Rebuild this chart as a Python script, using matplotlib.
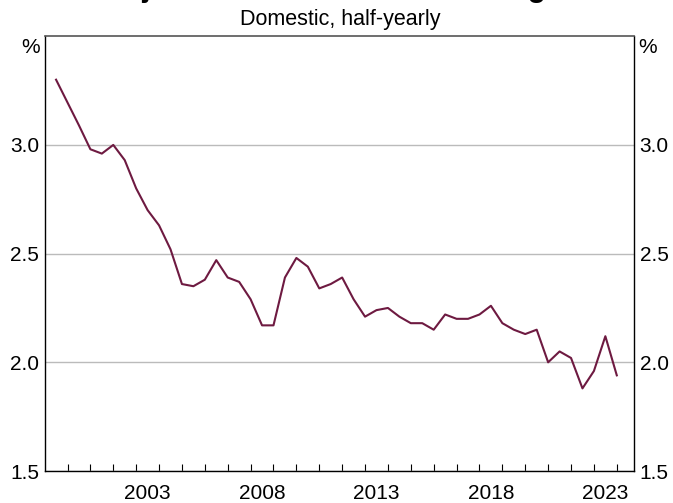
import matplotlib
matplotlib.use("Agg")
import matplotlib.pyplot as plt
from matplotlib.ticker import FixedLocator

plt.rcParams['font.family'] = ['Liberation Sans', 'DejaVu Sans']

# half-yearly observations (decimal year)
periods = [1999.5, 2000.0, 2000.5, 2001.0, 2001.5, 2002.0, 2002.5, 2003.0, 2003.5, 2004.0,
           2004.5, 2005.0, 2005.5, 2006.0, 2006.5, 2007.0, 2007.5, 2008.0, 2008.5, 2009.0,
           2009.5, 2010.0, 2010.5, 2011.0, 2011.5, 2012.0, 2012.5, 2013.0, 2013.5, 2014.0,
           2014.5, 2015.0, 2015.5, 2016.0, 2016.5, 2017.0, 2017.5, 2018.0, 2018.5, 2019.0,
           2019.5, 2020.0, 2020.5, 2021.0, 2021.5, 2022.0, 2022.5, 2023.0, 2023.5, 2024.0]
margin = [3.30, 3.195, 3.09, 2.98, 2.96, 3.00, 2.93, 2.80, 2.70, 2.63,
          2.52, 2.36, 2.35, 2.38, 2.47, 2.39, 2.37, 2.29, 2.17, 2.17,
          2.39, 2.48, 2.44, 2.34, 2.36, 2.39, 2.29, 2.21, 2.24, 2.25,
          2.21, 2.18, 2.18, 2.15, 2.22, 2.20, 2.20, 2.22, 2.26, 2.18,
          2.15, 2.13, 2.15, 2.00, 2.05, 2.02, 1.88, 1.96, 2.12, 1.94]

year_labels = ['2003', '2008', '2013', '2018', '2023']
year_label_pos = [2003.5, 2008.5, 2013.5, 2018.5, 2023.5]
year_ticks = list(range(2000, 2025))
y_ticks = [1.5, 2.0, 2.5, 3.0]

fig = plt.figure(figsize=(6.73, 5.03), dpi=100)
ax = fig.add_axes([0.0663, 0.0636, 0.8757, 0.8644])

ax.plot(periods, margin, color='#6e1a41', linewidth=1.5, zorder=3)

ax.set_xlim(1999.0, 2024.75)
ax.set_ylim(1.5, 3.5)

ax.set_yticks(y_ticks)
ax.set_yticklabels(['%.1f' % v for v in y_ticks])
ax.grid(axis='y', color='#bbbbbb', linewidth=1.0, zorder=1)
ax.tick_params(axis='y', length=0, labelsize=15, pad=4,
               left=False, right=False, labelleft=True, labelright=True)

ax.set_xticks(year_label_pos)
ax.set_xticklabels(year_labels)
ax.xaxis.set_minor_locator(FixedLocator(year_ticks))
ax.tick_params(axis='x', which='major', length=0, labelsize=15, pad=9)
ax.tick_params(axis='x', which='minor', direction='in', length=4.8, width=0.8, color='black')

for side in ['left', 'right', 'bottom']:
    ax.spines[side].set_color('black')
    ax.spines[side].set_linewidth(1.0)
ax.spines['top'].set_color('#555555')
ax.spines['top'].set_linewidth(1.2)

ax.text(-0.008, 0.995, '%', transform=ax.transAxes, ha='right', va='top', fontsize=15)
ax.text(1.008, 0.995, '%', transform=ax.transAxes, ha='left', va='top', fontsize=15)

fig.text(0.5, 1.0074, "Major Banks' Net Interest Margin", ha='center', va='baseline',
         fontsize=22, fontweight='bold')
fig.text(0.505, 0.962, 'Domestic, half-yearly', ha='center', va='center', fontsize=15.5)

fig.savefig('out.png', dpi=100)
